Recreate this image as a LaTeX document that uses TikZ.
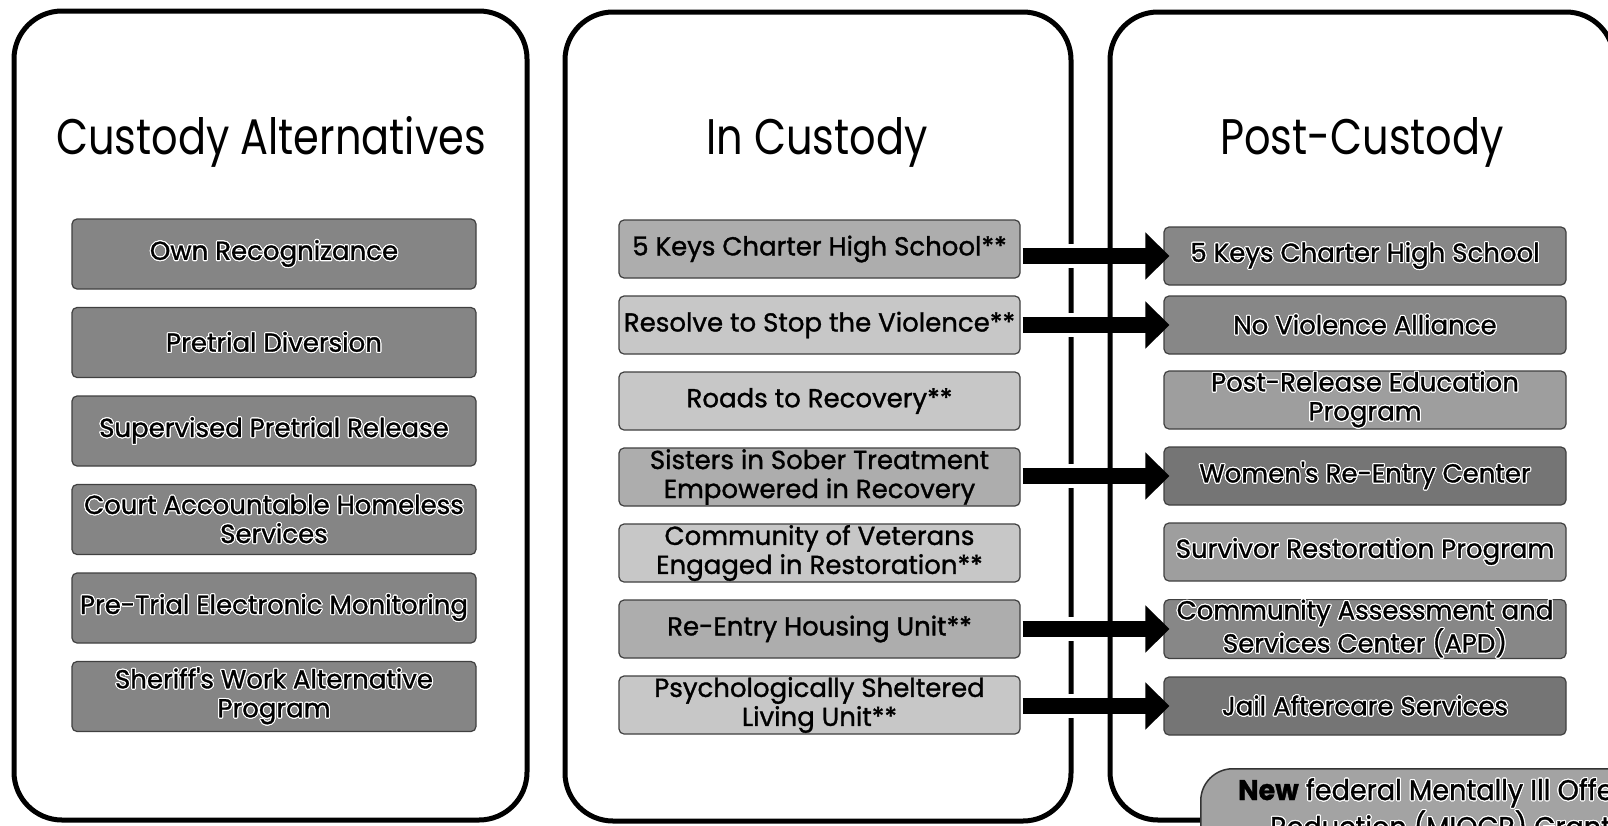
\documentclass[tikz,border=0pt]{standalone}
\usepackage{fontspec}
\setmainfont{Poppins}
\newfontfamily\boxfont{Poppins}[FakeStretch=1.0, FakeBold=1.2]
\newfontfamily\grantfont{Poppins}[FakeStretch=0.95, FakeBold=1.2]
\newfontfamily\titlefont{Poppins}[FakeStretch=0.83]
\usepackage[copies]{contour}
\contourlength{1.1pt}
\usetikzlibrary{arrows.meta}
\newcommand{\ol}[1]{\contour{white}{#1}}
\definecolor{lgray}{gray}{0.52}
\definecolor{mgrayA}{gray}{0.68}
\definecolor{mgrayB}{gray}{0.78}
\definecolor{rgray}{gray}{0.53}
\definecolor{rgrayD}{gray}{0.46}
\definecolor{rgrayL}{gray}{0.62}
\begin{document}
\begin{tikzpicture}[x=1pt,y=-1pt,
  panel/.style={draw=black, line width=5pt, rounded corners=48pt},
  title/.style={font=\titlefont\fontsize{50}{60}\selectfont, anchor=base, inner sep=0pt},
  cbox/.style={draw=black!75, line width=1.2pt, rounded corners=5pt, align=center,
     inner sep=0pt, font=\boxfont\fontsize{26}{29}\selectfont},
  lbox/.style={cbox, fill=lgray, minimum width=404pt, minimum height=70pt},
  mbox/.style={cbox, fill=mgrayB, minimum width=401pt, minimum height=58pt},
  rbox/.style={cbox, fill=rgray, minimum width=402pt, minimum height=58pt},
  flow/.style={line width=16pt, -{Triangle[length=24pt,width=46pt]},
     preaction={draw=white, line width=24pt, arrows=-, shorten >=24pt}},
  newbox/.style={draw=black!80, line width=1.5pt, fill=gray!72, rounded corners=32pt,
     anchor=north west, minimum width=600pt, minimum height=200pt, inner sep=0pt},
  ntext/.style={font=\grantfont\fontsize{28.5}{37}\selectfont, anchor=base west, inner sep=0pt}]
\useasboundingbox (0,0) rectangle (1608,825);
\fill[white] (0,0) rectangle (1608,825);

% panels
\draw[panel] (14,11) rectangle (527,820);
\draw[panel] (565,12) rectangle (1071,821);

% titles
\node[title] (t1) at (271,154) {Custody Alternatives};
\node[title] (t2) at (817,154) {In Custody};
\node[title] (t3) at (1362,154) {Post-Custody};

% custody alternatives
\node[lbox] (l1) at (274,254) {\ol{Own Recognizance}};
\node[lbox] (l2) at (274,342.5) {\ol{Pretrial Diversion}};
\node[lbox] (l3) at (274,431) {\ol{Supervised Pretrial Release}};
\node[lbox] (l4) at (274,519.5) {\ol{Court Accountable Homeless}\\\ol{Services}};
\node[lbox] (l5) at (274,608) {\ol{Pre-Trial Electronic Monitoring}};
\node[lbox] (l6) at (274,696.5) {\ol{Sheriff's Work Alternative}\\\ol{Program}};

% in custody
\node[mbox, fill=mgrayA] (m1) at (819.5,249) {5 Keys Charter High School**};
\node[mbox] (m2) at (819.5,325) {Resolve to Stop the Violence**};
\node[mbox] (m3) at (819.5,401) {Roads to Recovery**};
\node[mbox, fill=mgrayA] (m4) at (819.5,477) {Sisters in Sober Treatment\\Empowered in Recovery};
\node[mbox] (m5) at (819.5,553) {Community of Veterans\\Engaged in Restoration**};
\node[mbox, fill=mgrayA] (m6) at (819.5,629) {Re-Entry Housing Unit**};
\node[mbox] (m7) at (819.5,705) {Psychologically Sheltered\\Living Unit**};

% post custody
\node[rbox] (r1) at (1365,256) {\ol{5 Keys Charter High School}};
\node[rbox] (r2) at (1365,325) {\ol{No Violence Alliance}};
\node[rbox, fill=rgrayL] (r3) at (1365,400) {\ol{Post-Release Education}\\\ol{Program}};
\node[rbox, fill=rgrayD] (r4) at (1365,476) {\ol{Women's Re-Entry Center}};
\node[rbox, fill=rgrayL] (r5) at (1365,552) {\ol{Survivor Restoration Program}};
\node[rbox] (r6) at (1365,629) {\ol{Community Assessment and}\\\ol{Services Center (APD)}};
\node[rbox, fill=rgrayD] (r7) at (1365,706) {\ol{Jail Aftercare Services}};

% arrows
\draw[flow] ([xshift=2pt]m1.east |- r1.west) -- ([xshift=6pt]r1.west);
\draw[flow] ([xshift=2pt]m2.east |- r2.west) -- ([xshift=6pt]r2.west);
\draw[flow] ([xshift=2pt]m4.east |- r4.west) -- ([xshift=6pt]r4.west);
\draw[flow] ([xshift=2pt]m6.east |- r6.west) -- ([xshift=6pt]r6.west);
\draw[flow] ([xshift=2pt]m7.east |- r7.west) -- ([xshift=6pt]r7.west);

% post-custody panel
\draw[panel] (1110,12) rectangle (1614,820);

% new grant box
\node[newbox] (nf) at (1200,768) {};
\node[ntext] (nf1) at (1238,800) {\textbf{New} \ol{federal Mentally Ill Offender Crime}};
\node[ntext] (nf2) at (1270,837) {\ol{Reduction (MIOCR) Grant}};
\end{tikzpicture}
\end{document}
